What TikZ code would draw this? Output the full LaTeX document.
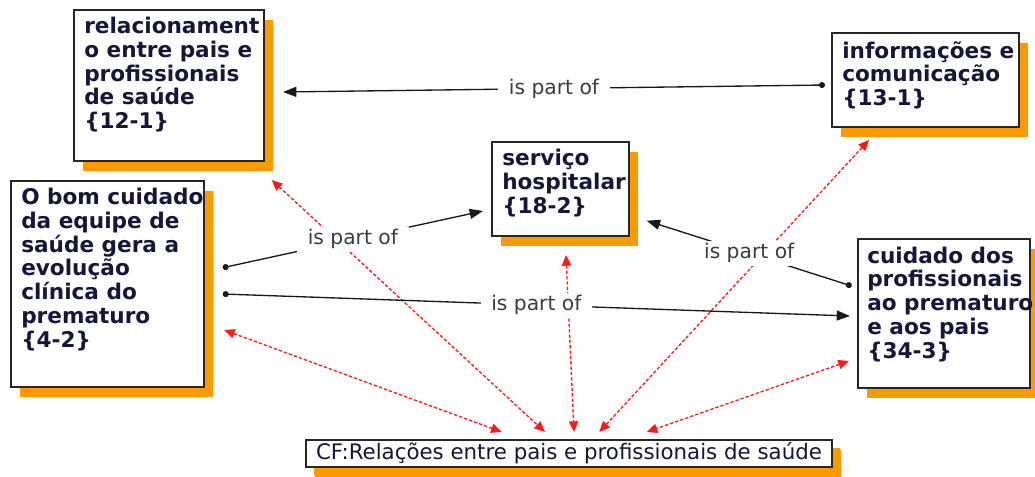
\documentclass[tikz,border=0pt]{standalone}
\usepackage{fontspec}
\setmainfont{DejaVu Sans}
\usetikzlibrary{arrows.meta,shadows,calc}
\definecolor{shorange}{HTML}{FF9900}
\definecolor{txtc}{HTML}{16163A}
\definecolor{lblc}{HTML}{3C3C3C}
\definecolor{redc}{HTML}{FF1A1A}
\begin{document}
\begin{tikzpicture}[x=0.75pt,y=-0.75pt,
  box/.style={draw=black!85, line width=1.5pt, fill=white, rectangle, anchor=north west,
    inner sep=0pt, outer sep=0pt,
    drop shadow={shadow xshift=6.75pt, shadow yshift=-7.5pt, fill=shorange, opacity=1}},
  txt/.style={anchor=north west, inner sep=0pt, align=left, text=txtc,
    font=\fontsize{16.2pt}{17.8pt}\selectfont\bfseries},
  lbl/.style={midway, fill=white, inner xsep=8pt, inner ysep=2pt, text=lblc,
    font=\fontsize{15.2pt}{18pt}\selectfont},
  partof/.style={draw=black!90, line width=1pt,
    {Circle[length=4.5pt]}-{Triangle[length=10pt,width=7.5pt]}},
  cfline/.style={draw=redc, line width=1pt, dash pattern=on 2.5pt off 1.5pt,
    {Triangle[length=8pt,width=7pt]}-{Triangle[length=8pt,width=7pt]}}
]
\useasboundingbox (0,0) rectangle (1035,476);

% boxes
\node[box, minimum width=142.5pt, minimum height=113.25pt] (b1) at (74,10) {};
\node[box, minimum width=140.25pt, minimum height=70.5pt] (b2) at (832,33) {};
\node[box, minimum width=144.75pt, minimum height=154.5pt] (b3) at (11,181) {};
\node[box, minimum width=102.75pt, minimum height=70.5pt] (b4) at (492,142) {};
\node[box, minimum width=129pt, minimum height=111.75pt] (b5) at (858,239) {};
\node[box, minimum width=394.5pt, minimum height=20.25pt,
  drop shadow={shadow xshift=6pt, shadow yshift=-6pt, fill=shorange, opacity=1},
  text=txtc, font=\fontsize{16pt}{18pt}\selectfont] (cf) at (306,440)
  {CF:Relações entre pais e profissionais de saúde};

% texts
\node[txt] (t1) at ($(b1.north west)+(10,7)$)
  {\rule{0pt}{12pt}relacionament\\o entre pais e\\profissionais\\de saúde\\\{12-1\}};
\node[txt] (t2) at ($(b2.north west)+(10,8)$)
  {\rule{0pt}{12pt}informações e\\comunicação\\\{13-1\}};
\node[txt] (t3) at ($(b3.north west)+(10,7)$)
  {\rule{0pt}{12pt}O bom cuidado\\da equipe de\\saúde gera a\\evolução\\clínica do\\prematuro\\\{4-2\}};
\node[txt] (t4) at ($(b4.north west)+(10,7)$)
  {\rule{0pt}{12pt}serviço\\hospitalar\\\{18-2\}};
\node[txt] (t5) at ($(b5.north west)+(9,7.5)$)
  {\rule{0pt}{12pt}cuidado dos\\profissionais\\ao prematuro\\e aos pais\\\{34-3\}};

% red CF connectors
\draw[cfline] ($(b1.south east)+(7.7,19)$) -- ($(cf.north west)+(239,-8)$);
\draw[cfline] ($(b3.north east)+(20,149)$) -- ($(cf.north west)+(195.7,-8)$);
\draw[cfline] ($(b4.south west)+(74,19)$) -- ($(cf.north west)+(268,-8)$);
\draw[cfline] ($(b2.south west)+(37,13)$) -- ($(cf.north west)+(293.3,-8)$);
\draw[cfline] ($(b5.north west)+(-9,122)$) -- ($(cf.north west)+(340.7,-8)$);

% is part of connectors
\draw[partof] ($(b2.north west)+(-7,52)$) -- node[lbl] {is part of} ($(b1.north east)+(19,82)$);
\draw[partof] ($(b3.north east)+(18.7,86.7)$) -- node[lbl] {is part of} ($(b4.north west)+(-9,69)$);
\draw[partof] ($(b5.north west)+(-6.3,47)$) -- node[lbl] {is part of} ($(b4.north east)+(17.7,78.7)$);
\draw[partof] ($(b3.north east)+(18.7,113)$) -- node[lbl] {is part of} ($(b5.north west)+(-8,77)$);
\end{tikzpicture}
\end{document}
